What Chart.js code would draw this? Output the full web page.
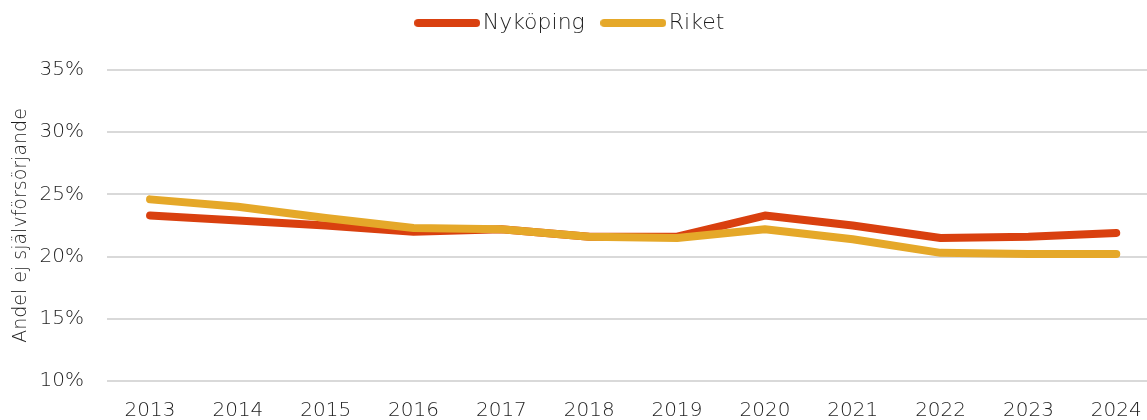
<!DOCTYPE html>
<html>
<head>
<meta charset="utf-8">
<script src="https://cdn.jsdelivr.net/npm/chart.js@4/dist/chart.umd.min.js"></script>
<style>
    body {margin: 0; background: #fff; overflow: hidden;}
</style>
</head>
<body>
<canvas id="ChartSjalvforsorjning" width="1147" height="420"></canvas>
<script>
// ---------------- DATA -------------------
const Years = [2013, 2014, 2015, 2016, 2017, 2018, 2019, 2020, 2021, 2022, 2023, 2024]
const Nykoping = [23.3, 22.9, 22.5, 22.0, 22.2, 21.6, 21.6, 23.3, 22.5, 21.5, 21.6, 21.9]
const Riket = [24.6, 24.0, 23.1, 22.3, 22.2, 21.6, 21.5, 22.2, 21.4, 20.3, 20.2, 20.2]
const YTicks = [10, 15, 20, 25, 30, 35]

const FontFamily = 'DejaVu Sans'
const TextColor = '#1e1e1e'
const Colors = {Nykoping: '#D9400F', Riket: '#E5A829'}

function Points(values) {
    return values.map((v, i) => ({x: Years[i], y: v}))
}

// legend swatch: a thick rounded line, a bit longer than the box so the text sits close
function LegendLine(color) {
    const c = document.createElement('canvas')
    c.width = 66
    c.height = 10
    const ctx = c.getContext('2d')
    ctx.strokeStyle = color
    ctx.lineWidth = 8
    ctx.lineCap = 'round'
    ctx.beginPath()
    ctx.moveTo(4, 5)
    ctx.lineTo(62, 5)
    ctx.stroke()
    return c
}

// legend box gets a fixed height so the plot starts lower down
const LegendSpace = {
    id: 'LegendSpace',
    beforeInit(chart) {
        const fit = chart.legend.fit
        chart.legend.fit = function () {
            fit.call(this)
            this.height = 82
        }
    }
}

// ---------------- CHART -------------------
const ChartSjalvforsorjning = document.getElementById('ChartSjalvforsorjning').getContext("2d")
new Chart(ChartSjalvforsorjning, {
    type: 'line',
    plugins: [LegendSpace],
    data: {
        datasets: [{
            label: 'Nyköping',
            data: Points(Nykoping),
            borderColor: Colors.Nykoping,
            backgroundColor: Colors.Nykoping,
            borderWidth: 8,
            borderCapStyle: 'round',
            borderJoinStyle: 'round',
            pointRadius: 0,
            pointStyle: LegendLine(Colors.Nykoping),
            fill: false,
            order: 1
        }, {
            label: 'Riket',
            data: Points(Riket),
            borderColor: Colors.Riket,
            backgroundColor: Colors.Riket,
            borderWidth: 8,
            borderCapStyle: 'round',
            borderJoinStyle: 'round',
            pointRadius: 0,
            pointStyle: LegendLine(Colors.Riket),
            fill: false,
            order: 0
        }]
    },
    options: {
        responsive: false,
        animation: false,
        layout: {padding: {top: -12, right: 0, bottom: 0, left: 0}},
        plugins: {
            legend: {
                display: true,
                position: 'top',
                labels: {
                    color: TextColor,
                    font: {family: FontFamily, size: 22, weight: 200},
                    usePointStyle: true,
                    pointStyleWidth: 49,
                    boxHeight: 8,
                    padding: 24,
                    sort: (a, b) => a.datasetIndex - b.datasetIndex
                }
            },
            tooltip: {enabled: false}
        },
        scales: {
            x: {
                type: 'linear',
                min: 2012.51,
                max: 2024.35,
                afterBuildTicks: scale => {scale.ticks = Years.map(v => ({value: v}))},
                afterFit: scale => {
                    scale.height = 39
                    scale.paddingLeft = 0
                    scale.paddingRight = 0
                },
                grid: {display: false, drawTicks: false},
                border: {display: false},
                ticks: {
                    color: TextColor,
                    padding: 18,
                    maxRotation: 0,
                    autoSkip: false,
                    font: {family: FontFamily, size: 20, weight: 200},
                    callback: v => String(v)
                }
            },
            y: {
                min: 10,
                max: 35,
                afterBuildTicks: scale => {scale.ticks = YTicks.map(v => ({value: v}))},
                afterFit: scale => {scale.width = 107},
                grid: {color: '#d9d9d9', lineWidth: 2, drawTicks: false},
                border: {display: false},
                ticks: {
                    color: TextColor,
                    padding: 23,
                    font: {family: FontFamily, size: 20, weight: 200},
                    callback: v => v + '%'
                },
                title: {
                    display: true,
                    text: 'Andel ej självförsörjande',
                    color: TextColor,
                    padding: {top: 10, bottom: 0},
                    font: {family: FontFamily, size: 19, weight: 200}
                }
            }
        }
    }
})
</script>
</body>
</html>
